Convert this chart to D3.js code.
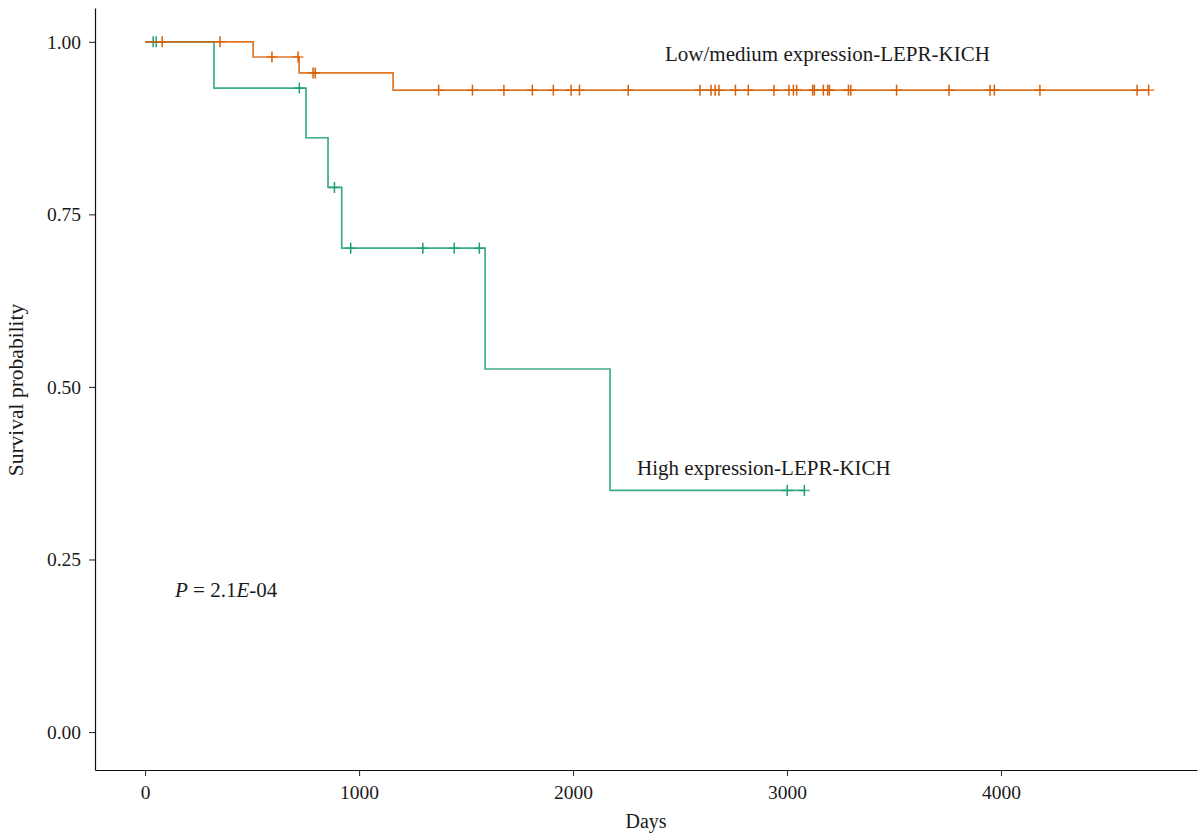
<!DOCTYPE html>
<html>
<head>
<meta charset="utf-8">
<script src="https://cdn.jsdelivr.net/npm/d3@7"></script>
<style>
  html, body { margin: 0; padding: 0; background: #fff; }
  text { font-family: "Liberation Serif", "Times New Roman", serif; fill: #1a1a1a; }
</style>
</head>
<body>
<svg id="chart" width="1201" height="834"></svg>
<script>
// ---- Data ----
// Low/medium expression group: step curve (time, survival)
const lowTimes = [0, 505, 720, 1159];
const lowSurv  = [1.000, 0.978, 0.955, 0.930];
const lowEnd = 4690;
// censor times for low group
const lowCensor = [80, 350, 593, 715, 785, 795, 1372, 1530, 1677, 1810, 1908, 1991, 2030, 2258,
  2593, 2645, 2664, 2682, 2759, 2819, 2939, 3009, 3030, 3045, 3120, 3128, 3170, 3190, 3198,
  3287, 3298, 3512, 3757, 3949, 3969, 4182, 4636, 4690];

// High expression group
const highTimes = [0, 322, 752, 855, 919, 1589, 2173];
const highSurv  = [1.000, 0.933, 0.861, 0.789, 0.701, 0.526, 0.350];
const highEnd = 3081;
const highCensor = [38, 52, 721, 885, 961, 1298, 1445, 1562, 3001, 3081];

const xTicks = [0, 1000, 2000, 3000, 4000];
const yTicks = [0, 0.25, 0.5, 0.75, 1.0];

const colLow = "#D95F02";
const colHigh = "#1B9E77";

const svg = d3.select("#chart");

const x = d3.scaleLinear().domain([-234, 4916]).range([95, 1197]);
const y = d3.scaleLinear().domain([-0.055, 1.049]).range([770, 8]);

// survival lookup for a step function
function survAt(times, surv, t) {
  let s = surv[0];
  for (let i = 0; i < times.length; i++) if (times[i] <= t) s = surv[i];
  return s;
}

function stepPoints(times, surv, end) {
  const pts = times.map((t, i) => [t, surv[i]]);
  pts.push([end, surv[surv.length - 1]]);
  return pts;
}

const line = d3.line().x(d => x(d[0])).y(d => y(d[1])).curve(d3.curveStepAfter);

function drawGroup(times, surv, end, censor, col) {
  svg.append("path")
    .datum(stepPoints(times, surv, end))
    .attr("d", line)
    .attr("fill", "none")
    .attr("stroke", col)
    .attr("stroke-opacity", 0.85)
    .attr("stroke-width", 1.7);
  const g = svg.append("g");
  censor.forEach(t => {
    const cx = x(t), cy = y(survAt(times, surv, t));
    g.append("line").attr("x1", cx - 5.5).attr("x2", cx + 5.5).attr("y1", cy).attr("y2", cy)
      .attr("stroke", col).attr("stroke-width", 1.5).attr("stroke-opacity", 0.75);
    g.append("line").attr("x1", cx).attr("x2", cx).attr("y1", cy - 5.5).attr("y2", cy + 5.5)
      .attr("stroke", col).attr("stroke-width", 1.5);
  });
}

drawGroup(highTimes, highSurv, highEnd, highCensor, colHigh);
drawGroup(lowTimes, lowSurv, lowEnd, lowCensor, colLow);

// ---- Axes ----
const xAxis = svg.append("g").attr("transform", "translate(0,770)")
  .call(d3.axisBottom(x).tickValues(xTicks).tickFormat(d3.format("d")).tickSize(6).tickSizeOuter(0).tickPadding(9));
const yAxis = svg.append("g").attr("transform", "translate(95,0)")
  .call(d3.axisLeft(y).tickValues(yTicks).tickFormat(d3.format(".2f")).tickSize(6).tickSizeOuter(0).tickPadding(8));

[xAxis, yAxis].forEach(a => {
  a.select(".domain").attr("stroke", "#111").attr("stroke-width", 1.2);
  a.selectAll(".tick line").attr("stroke", "#333").attr("stroke-width", 1.1);
  a.selectAll(".tick text").attr("font-family", "Liberation Serif, serif").attr("font-size", 19.5).attr("fill", "#1a1a1a");
});

// axis titles
svg.append("text").attr("x", 646).attr("y", 828).attr("text-anchor", "middle")
  .attr("font-size", 20).text("Days");
svg.append("text").attr("transform", "translate(23,390) rotate(-90)").attr("text-anchor", "middle")
  .attr("font-size", 21.5).text("Survival probability");

// group labels
svg.append("text").attr("x", 665).attr("y", 61).attr("font-size", 21).text("Low/medium expression-LEPR-KICH");
svg.append("text").attr("x", 637).attr("y", 475).attr("font-size", 21).text("High expression-LEPR-KICH");

// p-value
const pt = svg.append("text").attr("x", 175).attr("y", 597).attr("font-size", 21);
pt.append("tspan").attr("font-style", "italic").text("P");
pt.append("tspan").text(" = 2.1");
pt.append("tspan").attr("font-style", "italic").text("E");
pt.append("tspan").text("-04");
</script>
</body>
</html>
